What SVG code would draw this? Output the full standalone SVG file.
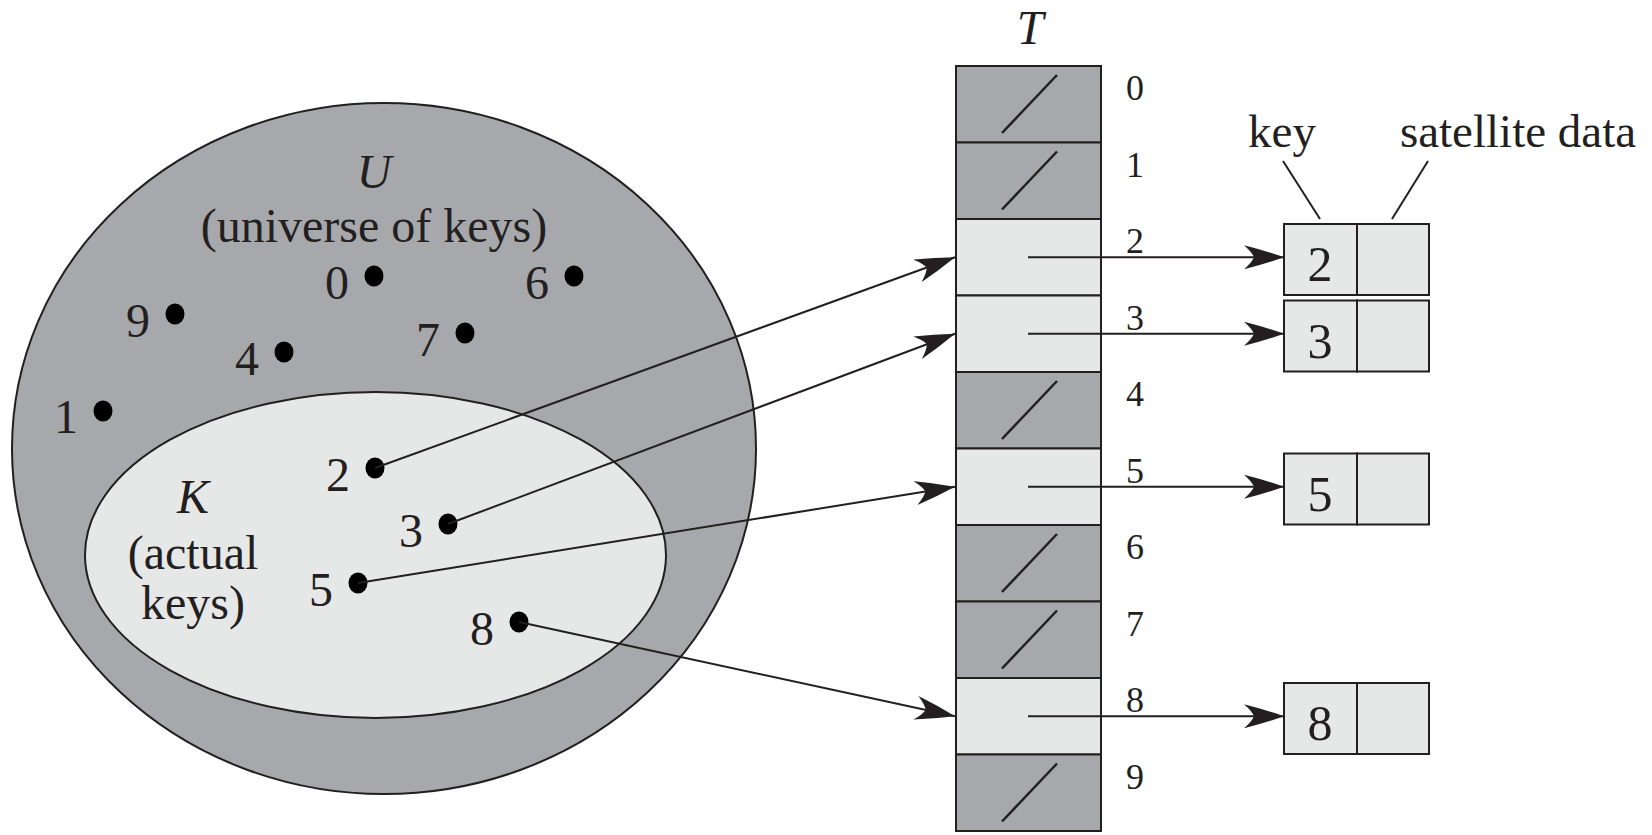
<svg xmlns="http://www.w3.org/2000/svg" width="1652" height="835" viewBox="0 0 1652 835">
<style>
text{font-family:"Liberation Serif","Times New Roman",serif;fill:#231f20}
.lbl{font-size:48px;text-anchor:end}
.tl{font-size:36px;text-anchor:middle}
.bd{font-size:50px;text-anchor:middle}
.it{font-style:italic}
.dark{fill:#a7a8ab;stroke:#231f20;stroke-width:2}
.light{fill:#e6e7e7;stroke:#231f20;stroke-width:2}
.sl{stroke:#231f20;stroke-width:2.5;fill:none}
.ln{stroke:#231f20;stroke-width:2;fill:none}
.arr{stroke:#231f20;stroke-width:2;fill:none;marker-end:url(#ah)}
.dot{fill:#000}
</style>
<defs>
<marker id="ah" markerUnits="userSpaceOnUse" markerWidth="40" markerHeight="24" viewBox="0 0 40 24" refX="40" refY="12" orient="auto">
<path d="M40,12 Q20,5 0,0 Q8,7 10,12 Q8,17 0,24 Q20,19 40,12 Z" fill="#231f20"/>
</marker>
</defs>
<g id="universe">
<ellipse cx="384" cy="448.5" rx="372" ry="345.5" class="dark"/>
<text x="374" y="188" class="it" style="font-size:48px;text-anchor:middle">U</text>
<text x="374" y="242" style="font-size:48px;text-anchor:middle">(universe of keys)</text>
</g>
<g id="actual">
<ellipse cx="375.5" cy="555" rx="290.5" ry="163" class="light"/>
<text x="193" y="513" class="it" style="font-size:48px;text-anchor:middle">K</text>
<text x="193" y="569" style="font-size:48px;text-anchor:middle">(actual</text>
<text x="193" y="619" style="font-size:48px;text-anchor:middle">keys)</text>
</g>
<g id="keys">
<g id="k0"><ellipse class="dot" cx="374" cy="276" rx="9.5" ry="10.5"/><text class="lbl" x="349" y="299">0</text></g>
<g id="k6"><ellipse class="dot" cx="574" cy="276" rx="9.5" ry="10.5"/><text class="lbl" x="549" y="299">6</text></g>
<g id="k9"><ellipse class="dot" cx="175" cy="314" rx="9.5" ry="10.5"/><text class="lbl" x="150" y="337">9</text></g>
<g id="k4"><ellipse class="dot" cx="284" cy="352" rx="9.5" ry="10.5"/><text class="lbl" x="259" y="375">4</text></g>
<g id="k7"><ellipse class="dot" cx="465" cy="333" rx="9.5" ry="10.5"/><text class="lbl" x="440" y="356">7</text></g>
<g id="k1"><ellipse class="dot" cx="103" cy="411" rx="9.5" ry="10.5"/><text class="lbl" x="78" y="433">1</text></g>
<g id="k2"><ellipse class="dot" cx="375" cy="468" rx="9.5" ry="10.5"/><text class="lbl" x="350" y="491">2</text></g>
<g id="k3"><ellipse class="dot" cx="448" cy="524" rx="9.5" ry="10.5"/><text class="lbl" x="423" y="547">3</text></g>
<g id="k5"><ellipse class="dot" cx="358" cy="583" rx="9.5" ry="10.5"/><text class="lbl" x="333" y="606">5</text></g>
<g id="k8"><ellipse class="dot" cx="519" cy="622" rx="9.5" ry="10.5"/><text class="lbl" x="494" y="645">8</text></g>
</g>
<g id="table">
<text x="1030" y="44" class="it" style="font-size:48px;text-anchor:middle">T</text>
<g id="row0"><rect class="dark" x="956" y="66" width="145" height="76.5"/><line class="sl" x1="1002" y1="133" x2="1057" y2="75"/><text class="tl" x="1135" y="100">0</text></g>
<g id="row1"><rect class="dark" x="956" y="142.5" width="145" height="76.5"/><line class="sl" x1="1002" y1="209.5" x2="1057" y2="151.5"/><text class="tl" x="1135" y="176.5">1</text></g>
<g id="row2"><rect class="light" x="956" y="219" width="145" height="76.5"/><text class="tl" x="1135" y="253">2</text></g>
<g id="row3"><rect class="light" x="956" y="295.5" width="145" height="76.5"/><text class="tl" x="1135" y="329.5">3</text></g>
<g id="row4"><rect class="dark" x="956" y="372" width="145" height="76.5"/><line class="sl" x1="1002" y1="439" x2="1057" y2="381"/><text class="tl" x="1135" y="406">4</text></g>
<g id="row5"><rect class="light" x="956" y="448.5" width="145" height="76.5"/><text class="tl" x="1135" y="482.5">5</text></g>
<g id="row6"><rect class="dark" x="956" y="525" width="145" height="76.5"/><line class="sl" x1="1002" y1="592" x2="1057" y2="534"/><text class="tl" x="1135" y="559">6</text></g>
<g id="row7"><rect class="dark" x="956" y="601.5" width="145" height="76.5"/><line class="sl" x1="1002" y1="668.5" x2="1057" y2="610.5"/><text class="tl" x="1135" y="635.5">7</text></g>
<g id="row8"><rect class="light" x="956" y="678" width="145" height="76.5"/><text class="tl" x="1135" y="712">8</text></g>
<g id="row9"><rect class="dark" x="956" y="754.5" width="145" height="76.5"/><line class="sl" x1="1002" y1="821.5" x2="1057" y2="763.5"/><text class="tl" x="1135" y="788.5">9</text></g>
</g>
<g id="elements">
<g id="legend">
<text x="1282" y="147" style="font-size:47px;text-anchor:middle">key</text>
<text x="1518" y="147" style="font-size:47px;text-anchor:middle">satellite data</text>
<line class="ln" x1="1283" y1="161" x2="1320" y2="219"/>
<line class="ln" x1="1428" y1="161" x2="1392" y2="219"/>
</g>
<g id="el2"><rect class="light" x="1284" y="224" width="73" height="71"/><rect class="light" x="1357" y="224" width="72" height="71"/><text class="bd" x="1320" y="281">2</text></g>
<g id="el3"><rect class="light" x="1284" y="300.5" width="73" height="71"/><rect class="light" x="1357" y="300.5" width="72" height="71"/><text class="bd" x="1320" y="357.5">3</text></g>
<g id="el5"><rect class="light" x="1284" y="453.5" width="73" height="71"/><rect class="light" x="1357" y="453.5" width="72" height="71"/><text class="bd" x="1320" y="510.5">5</text></g>
<g id="el8"><rect class="light" x="1284" y="683" width="73" height="71"/><rect class="light" x="1357" y="683" width="72" height="71"/><text class="bd" x="1320" y="740">8</text></g>
</g>
<g id="connectors">
<line class="arr" x1="375" y1="468" x2="955" y2="257.25"/>
<line class="arr" x1="448" y1="524" x2="955" y2="333.75"/>
<line class="arr" x1="358" y1="583" x2="955" y2="486.75"/>
<line class="arr" x1="519" y1="622" x2="955" y2="716.25"/>
<line class="arr" x1="1028" y1="257.25" x2="1284" y2="257.25"/>
<line class="arr" x1="1028" y1="333.75" x2="1284" y2="333.75"/>
<line class="arr" x1="1028" y1="486.75" x2="1284" y2="486.75"/>
<line class="arr" x1="1028" y1="716.25" x2="1284" y2="716.25"/>
</g>
</svg>
